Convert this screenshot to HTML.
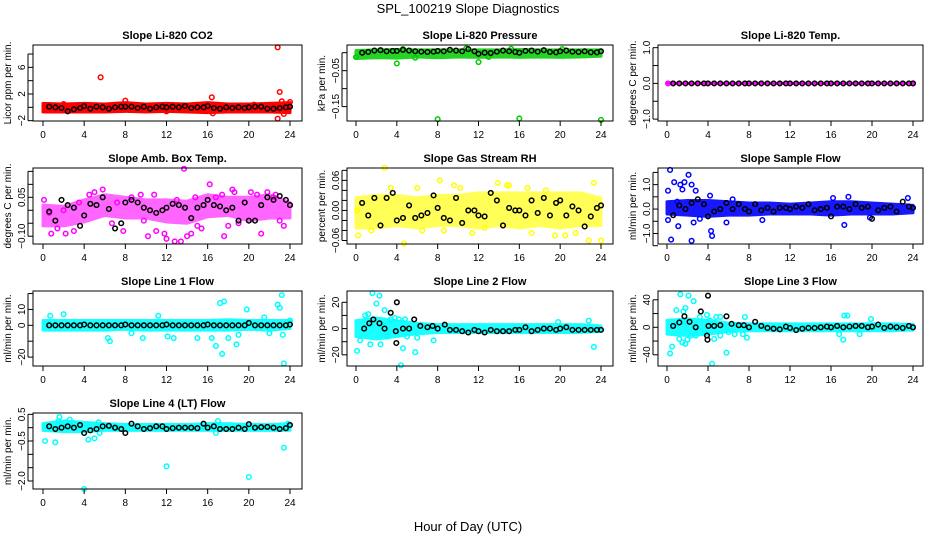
<!DOCTYPE html>
<html><head><meta charset="utf-8"><style>
html,body{margin:0;padding:0;background:#fff;}
svg{display:block;font-family:"Liberation Sans",Arial,sans-serif;}
</style></head><body>
<svg id="chart" width="936" height="540" viewBox="0 0 936 540">
<text x="468" y="13" text-anchor="middle" font-size="13">SPL_100219  Slope Diagnostics</text>
<text x="468" y="531" text-anchor="middle" font-size="13">Hour of Day (UTC)</text>
</svg>
<script>
const bandHours=[0,2,4,6,8,10,12,14,16,18,20,22,24];
const blackHours=[0.6,1.2,1.8,2.4,3.0,3.6,4.0,4.6,5.2,5.8,6.4,7.0,7.6,8.0,8.6,9.2,9.8,10.4,11.0,11.6,12.0,12.6,13.2,13.8,14.4,15.0,15.6,16.0,16.6,17.2,17.8,18.4,19.0,19.6,20.0,20.6,21.2,21.8,22.4,23.0,23.6,24.0];

// CO2
const co2BandLo=[-0.7,-0.7,-0.7,-0.7,-0.6,-0.7,-0.6,-0.7,-0.8,-0.7,-0.7,-0.7,-0.8];
const co2BandHi=[0.6,0.5,0.6,0.5,0.7,0.5,0.6,0.5,0.7,0.5,0.5,0.6,0.7];
const co2PtX=[5.6,22.8,23.0,22.8,16.4,8.0,24.0,23.4,16.5,2.0,12.0,20.5,23.2];
const co2PtY=[4.5,9.0,2.3,-1.7,1.5,1.0,0.8,-1.0,-0.9,0.5,-0.6,0.4,0.9];
const co2Black=[0.1,0.0,-0.1,-0.6,-0.3,-0.1,0.2,-0.2,0.1,0.0,-0.2,0.0,0.1,0.1,0.1,-0.1,0.1,-0.2,0.0,0.1,0.0,0.1,0.0,0.2,-0.1,0.0,0.0,0.2,-0.1,-0.2,0.0,-0.1,0.0,-0.1,0.0,0.1,0.1,-0.2,-0.2,-0.1,0.0,0.1];
// Pressure
const presBandLo=[-0.016,-0.014,-0.015,-0.012,-0.014,-0.012,-0.013,-0.012,-0.013,-0.012,-0.013,-0.012,-0.01];
const presBandHi=[0.006,0.008,0.009,0.008,0.008,0.008,0.008,0.008,0.009,0.008,0.008,0.008,0.008];
const presPtX=[0.0,4.0,4.6,8.0,12.0,16.0,24.0,10.8,15.2,20.2,13.0,5.8];
const presPtY=[-0.012,-0.03,0.01,-0.185,-0.026,-0.183,-0.187,0.012,0.011,0.01,-0.012,-0.014];
const presBlack=[0.0,0.002,0.006,0.007,0.004,0.005,0.005,0.008,0.006,0.004,0.003,0.002,0.003,0.005,0.004,0.008,0.006,0.004,0.01,0.004,-0.003,0.0,-0.001,0.003,0.006,0.004,0.002,0.0,0.005,0.006,0.003,0.007,0.002,0.001,0.004,0.006,0.003,0.002,0.004,0.001,0.001,0.004];
// Temp
const tempBandLo=[0,0,0,0,0,0,0,0,0,0,0,0,0];
const tempBandHi=[0,0,0,0,0,0,0,0,0,0,0,0,0];
const tempPtX=[0.1,24.0];
const tempPtY=[0,0];
const tempBlack=[0,0,0,0,0,0,0,0,0,0,0,0,0,0,0,0,0,0,0,0,0,0,0,0,0,0,0,0,0,0,0,0,0,0,0,0,0,0,0,0,0,0];
// Amb box temp
const ambBandLo=[-0.06,-0.06,-0.045,-0.02,-0.03,-0.03,-0.045,-0.05,-0.025,-0.02,-0.04,-0.03,-0.03];
const ambBandHi=[0.02,0.015,0.04,0.06,0.05,0.04,0.04,0.035,0.06,0.05,0.05,0.06,0.03];
const ambPtX=[0.1,0.8,2.2,3.5,5.0,5.8,7.8,8.6,9.5,10.2,11.0,11.8,12.0,12.8,13.4,13.7,14.0,14.4,15.4,16.2,16.8,17.4,17.6,18.4,18.6,20.2,20.8,21.2,22.4,22.6,23.0,24.0,0.6,3.0,6.7,9.8,15.0,19.0,2.0,13.0,1.4,4.5,7.2,10.8,14.8,18.0,21.8,23.4];
const ambPtY=[0.04,-0.09,-0.09,0.03,0.07,0.08,-0.08,0.05,0.06,-0.1,-0.08,-0.09,-0.11,-0.12,-0.12,0.16,-0.1,-0.09,-0.07,0.1,0.05,0.06,-0.1,0.08,0.07,0.07,0.06,-0.09,0.05,0.06,-0.04,0.02,-0.01,-0.08,-0.05,-0.04,-0.06,-0.05,0.0,0.04,-0.07,0.06,0.03,0.06,0.05,-0.06,0.07,-0.06];
const ambBlack=[-0.005,-0.04,0.04,0.02,0.01,-0.06,-0.02,0.025,0.02,0.05,0.005,-0.07,-0.05,0.03,0.04,0.03,0.01,0.0,-0.01,0.0,0.01,0.025,0.02,0.01,-0.03,0.01,0.02,0.04,0.02,0.015,0.0,0.01,-0.04,0.03,-0.04,-0.04,0.02,0.05,0.04,0.055,0.04,0.02];
// RH
const rhBandLo=[-0.035,-0.035,-0.03,-0.035,-0.03,-0.03,-0.035,-0.03,-0.035,-0.03,-0.035,-0.03,-0.03];
const rhBandHi=[0.025,0.03,0.03,0.025,0.03,0.03,0.035,0.035,0.035,0.035,0.035,0.035,0.025];
const rhPtX=[2.8,0.2,4.7,8.2,13.9,9.6,15.0,17.2,16.8,20.5,21.5,23.3,1.5,6.5,3.4,11.4,14.8,18.6,22.8,24.0,12.6,10.2,19.5,6.0,8.6,0.1];
const rhPtY=[0.085,-0.05,-0.066,0.06,0.055,0.05,0.05,-0.045,0.045,-0.05,-0.045,0.055,-0.04,-0.04,0.045,-0.045,0.05,0.04,-0.06,-0.06,-0.035,0.045,-0.05,0.045,-0.04,0.0];
const rhBlack=[0.015,-0.01,0.025,-0.03,0.025,0.035,-0.02,-0.015,0.01,-0.015,-0.01,-0.005,0.03,0.005,-0.015,-0.02,0.025,-0.025,0.0,0.0,-0.01,-0.012,0.035,0.02,-0.03,0.005,0.0,0.0,-0.01,0.02,-0.005,0.025,-0.01,0.015,0.02,-0.01,0.008,0.0,-0.032,-0.012,0.005,0.01];
// Sample flow
const sampBandLo=[-0.2,-0.25,-0.3,-0.25,-0.25,-0.2,-0.2,-0.2,-0.25,-0.2,-0.2,-0.2,-0.15];
const sampBandHi=[0.3,0.35,0.35,0.3,0.25,0.25,0.2,0.25,0.3,0.3,0.25,0.2,0.15];
const sampPtX=[0.3,0.1,0.1,0.4,0.7,1.1,1.3,1.5,1.7,2.1,2.4,2.4,2.6,2.8,4.3,4.4,4.2,5.8,9.3,17.3,17.7,23.5,6.4,16.2,19.8,1.0,3.2];
const sampPtY=[1.6,0.75,-0.45,-1.25,1.1,-0.7,1.0,0.8,1.1,1.4,1.0,-1.3,-0.55,0.75,-0.9,-1.1,0.55,-0.55,-0.45,-0.65,0.5,0.45,0.4,0.45,-0.35,0.3,-0.4];
const sampBlack=[-0.25,0.15,0.0,0.25,0.4,0.2,-0.3,-0.1,0.0,0.25,0.0,0.2,0.0,-0.1,0.2,-0.05,0.05,-0.1,0.05,0.05,0.0,0.1,0.05,0.2,-0.05,0.0,0.05,-0.3,0.1,0.1,0.0,0.2,0.05,0.1,-0.4,-0.05,0.05,0.1,-0.1,0.3,0.1,0.05];
// Line 1
const l1BandLo=[-3,-3,-3,-3,-2.5,-3,-3,-3,-3,-3,-2.5,-3,-2];
const l1BandHi=[3,3,3,3,3,3,3,3,3,3.5,3,3,3];
const l1PtX=[0.7,2.0,6.3,6.5,9.7,11.2,12.1,12.7,15.0,16.4,16.8,17.2,17.6,17.4,18.0,18.8,19.0,19.8,22.8,23.0,23.2,23.4,23.3,22.0,24.0,21.5,8.6];
const l1PtY=[6,7,-8,-10,-8,6,-7,-8,-8,-8,-13,14,15,-18,-8,-12,-6,10,13,11,19,-24,-6,-5,3,5,-5];
const l1Black=[0,0,0,0,0,0,0.5,0,0,0,0,0,0,0.5,0,0,0,0,0,0,0.5,0,0,0,0,0,0,0.5,0,0,0,0,0,0,1.5,0,0,0,0,0,0,0.5];
// Line 2
const l2BandLo=[-6,-8,-6,-4,-3,-3,-3,-3,-3,-3,-3,-3,-2];
const l2BandHi=[6,8,6,4,3,3,3,3,3,3,3,3,2];
const l2PtX=[0.1,0.4,0.9,1.2,1.4,1.6,2.0,2.3,2.4,2.8,3.1,3.4,3.8,4.2,4.4,4.6,4.8,5.0,5.8,6.0,7.6,23.3,22.8,19.8];
const l2PtY=[-17,-9,10,11,-12,27,19,25,-12,14,-6,7,8,7,-28,-15,7,-6,-18,-7,-9,-14,6,5];
const l2BlkX=[0.8,1.3,1.7,2.3,2.8,3.4,3.9,3.95,4.0,4.6,5.2,5.7,6.3,7.0,7.5,8.0,8.7,9.2,9.8,10.4,11.0,11.6,12.0,12.6,13.2,13.8,14.4,15.0,15.6,16.0,16.6,17.2,17.8,18.4,19.0,19.6,20.0,20.6,21.2,21.8,22.4,23.0,23.6,24.0];
const l2BlkY=[0,4,7,4,0,12,-2,-11,20,0,0,7,2,1,2,0,3,-1,-1,-2,-3,-1,-2,-3,-1,-2,-2,-2,-1,-1,1,-2,-1,0,0,-1,0,1,-1,-1,-1,-1,-1,-1];
// Line 3
const l3BandLo=[-10,-12,-10,-6,-5,-5,-5,-5,-5,-5,-5,-5,-4];
const l3BandHi=[10,12,10,6,5,5,5,5,5,5,5,5,4];
const l3PtX=[0.3,0.5,0.9,1.3,1.2,1.5,1.6,1.8,1.8,2.0,2.1,2.3,2.6,2.8,3.2,3.7,3.9,4.2,4.4,4.6,4.8,5.2,5.2,5.8,6.0,6.6,7.4,7.6,7.8,16.8,17.2,17.3,17.6,19.9,18.8];
const l3PtY=[-38,-28,25,48,-17,-22,23,28,-24,-18,46,-12,38,-12,15,-8,18,10,-53,-17,15,15,-12,-37,-7,-10,-10,15,-15,-10,-18,17,17,12,-10];
const l3BlkX=[0.6,1.2,1.7,2.2,2.8,3.3,3.9,3.95,4.0,4.05,4.6,5.2,5.8,6.3,7.0,7.5,8.0,8.6,9.2,9.8,10.4,11.0,11.6,12.0,12.6,13.2,13.8,14.4,15.0,15.6,16.0,16.6,17.2,17.8,18.4,19.0,19.6,20.0,20.6,21.2,21.8,22.4,23.0,23.6,24.0];
const l3BlkY=[2,7,16,8,0,23,-12,-18,46,2,2,3,16,5,3,3,0,8,2,-1,-2,-3,1,-1,-4,-2,-1,-1,0,1,0,2,0,1,2,2,0,1,4,-1,1,0,-1,2,0];
// Line 4
const l4BandLo=[-0.1,-0.15,-0.15,-0.1,-0.1,-0.1,-0.1,-0.1,-0.1,-0.1,-0.1,-0.1,-0.1];
const l4BandHi=[0.15,0.25,0.2,0.15,0.12,0.12,0.12,0.12,0.15,0.15,0.12,0.12,0.15];
const l4PtX=[0.2,1.2,1.6,1.5,2.6,4.0,4.4,5.0,5.5,5.4,12.0,20.0,23.4,17.0,23.8,16.8,2.2,3.0];
const l4PtY=[-0.5,-0.55,0.4,0.25,0.3,-2.3,-0.45,-0.4,-0.2,0.2,-1.45,-1.85,-0.75,0.25,0.15,-0.2,0.2,0.15];
const l4Black=[0.05,-0.05,0.0,0.05,0.0,0.1,-0.2,-0.1,-0.05,0.05,0.07,0.0,-0.05,-0.2,0.15,0.05,-0.05,-0.02,0.05,0.05,-0.05,-0.02,0.0,0.0,0.0,-0.02,0.15,0.0,0.05,-0.05,-0.05,-0.05,0.0,-0.05,0.13,0.0,0.02,0.03,0.0,-0.05,-0.02,0.1];

const NS='http://www.w3.org/2000/svg';
const svg=document.getElementById('chart');
function mk(tag,attrs,parent){const e=document.createElementNS(NS,tag);for(const k in attrs)e.setAttribute(k,attrs[k]);(parent||svg).appendChild(e);return e;}

const cols=[{l:33,r:302,x0:43,x24:290},{l:347,r:613,x0:356,x24:601},{l:658,r:923,x0:667,x24:913}];
const rows=[{t:45,b:121},{t:168,b:244},{t:291,b:366},{t:413,b:489}];

const panels=[
 {key:'co2',title:'Slope Li-820 CO2',ylab:'Licor ppm per min.',c:0,r:0,ymin:-2.05,ymax:9.35,ticks:[-2,0,2,4,6,8],labels:[-2,2,6],fmt:v=>String(v),color:'#ff0000',op:1,bl:co2BandLo,bh:co2BandHi,px:co2PtX,py:co2PtY,kx:blackHours,ky:co2Black},
 {key:'pres',title:'Slope Li-820 Pressure',ylab:'kPa per min.',c:1,r:0,ymin:-0.19,ymax:0.0214,ticks:[0,-0.05,-0.1,-0.15],labels:[-0.05,-0.15],fmt:v=>v.toFixed(2),color:'#00cc00',op:0.85,bl:presBandLo,bh:presBandHi,px:presPtX,py:presPtY,kx:blackHours,ky:presBlack},
 {key:'temp',title:'Slope Li-820 Temp.',ylab:'degrees C per min.',c:2,r:0,ymin:-1.053,ymax:1.075,ticks:[-1,-0.5,0,0.5,1],labels:[-1,0,1],fmt:v=>v.toFixed(1),color:'#ff00ff',op:1,bl:tempBandLo,bh:tempBandHi,px:tempPtX,py:tempPtY,kx:blackHours,ky:tempBlack},
 {key:'amb',title:'Slope Amb. Box Temp.',ylab:'degrees C per min.',c:0,r:1,ymin:-0.13,ymax:0.163,ticks:[-0.1,-0.05,0,0.05,0.1,0.15],labels:[-0.1,0.05],fmt:v=>v.toFixed(2),color:'#ff00ff',op:0.6,bl:ambBandLo,bh:ambBandHi,px:ambPtX,py:ambPtY,kx:blackHours,ky:ambBlack},
 {key:'rh',title:'Slope Gas Stream RH',ylab:'percent per min.',c:1,r:1,ymin:-0.067,ymax:0.0847,ticks:[-0.06,-0.04,-0.02,0,0.02,0.04,0.06,0.08],labels:[-0.06,0,0.06],fmt:v=>v.toFixed(2),color:'#ffff00',op:0.65,bl:rhBandLo,bh:rhBandHi,px:rhPtX,py:rhPtY,kx:blackHours,ky:rhBlack},
 {key:'samp',title:'Slope Sample Flow',ylab:'ml/min per min.',c:2,r:1,ymin:-1.43,ymax:1.68,ticks:[-1.5,-1,-0.5,0,0.5,1,1.5],labels:[-1,0,1],fmt:v=>v.toFixed(1),color:'#0000ff',op:0.9,bl:sampBandLo,bh:sampBandHi,px:sampPtX,py:sampPtY,kx:blackHours,ky:sampBlack},
 {key:'l1',title:'Slope Line 1 Flow',ylab:'ml/min per min.',c:0,r:2,ymin:-25.6,ymax:21.6,ticks:[-20,-10,0,10,20],labels:[-20,0,10],fmt:v=>String(v),color:'#00ffff',op:0.9,bl:l1BandLo,bh:l1BandHi,px:l1PtX,py:l1PtY,kx:blackHours,ky:l1Black},
 {key:'l2',title:'Slope Line 2 Flow',ylab:'ml/min per min.',c:1,r:2,ymin:-28.5,ymax:28.6,ticks:[-20,-10,0,10,20],labels:[-20,0,20],fmt:v=>String(v),color:'#00ffff',op:0.9,bl:l2BandLo,bh:l2BandHi,px:l2PtX,py:l2PtY,kx:l2BlkX,ky:l2BlkY},
 {key:'l3',title:'Slope Line 3 Flow',ylab:'ml/min per min.',c:2,r:2,ymin:-56.3,ymax:52.8,ticks:[-40,-20,0,20,40],labels:[-40,0,40],fmt:v=>String(v),color:'#00ffff',op:0.9,bl:l3BandLo,bh:l3BandHi,px:l3PtX,py:l3PtY,kx:l3BlkX,ky:l3BlkY},
 {key:'l4',title:'Slope Line 4 (LT) Flow',ylab:'ml/min per min.',c:0,r:3,ymin:-2.3,ymax:0.55,ticks:[-2,-1.5,-1,-0.5,0,0.5],labels:[-2,-0.5,0.5],fmt:v=>v.toFixed(1),color:'#00ffff',op:0.9,bl:l4BandLo,bh:l4BandHi,px:l4PtX,py:l4PtY,kx:blackHours,ky:l4Black}
];

panels.forEach(p=>{
  const C=cols[p.c],R=rows[p.r];
  const xs=h=>C.x0+(C.x24-C.x0)*h/24;
  const ys=v=>R.b-(v-p.ymin)/(p.ymax-p.ymin)*(R.b-R.t);
  const g=mk('g',{});
  
  
  const cx=(C.l+C.r)/2, cy=(R.t+R.b)/2;
  const t=mk('text',{x:cx,y:R.t-6,'text-anchor':'middle','font-size':11,'font-weight':'bold'},g);t.textContent=p.title;
  
  
  const yl=mk('text',{x:0,y:0,'text-anchor':'middle','font-size':10,transform:`translate(${C.l-22},${cy}) rotate(-90)`},g);yl.textContent=p.ylab;
  
  
  let pts=[];
  bandHours.forEach((h,i)=>pts.push(xs(h)+','+ys(p.bh[i])));
  for(let i=bandHours.length-1;i>=0;i--)pts.push(xs(bandHours[i])+','+ys(p.bl[i]));
  const band=mk('polygon',{points:pts.join(' '),fill:p.color,stroke:p.color,'stroke-width':3,'stroke-linejoin':'round',opacity:p.op},g);
  
  
  p.px.forEach((h,i)=>{
    const c=mk('circle',{cx:xs(h),cy:ys(p.py[i]),r:2.3,fill:'none',stroke:p.color,'stroke-width':1.5},g);
    
    
  });
  p.kx.forEach((h,i)=>{
    const c=mk('circle',{cx:xs(h),cy:ys(p.ky[i]),r:2.3,fill:'none',stroke:'#000','stroke-width':1.5},g);
    
    
  });
  const box=mk('rect',{x:C.l,y:R.t,width:C.r-C.l,height:R.b-R.t,fill:'none',stroke:'#000','stroke-width':1},g);
  
  
  [0,4,8,12,16,20,24].forEach(h=>{
    mk('line',{x1:xs(h),x2:xs(h),y1:R.b,y2:R.b+5,stroke:'#000'},g);
    const tl=mk('text',{x:xs(h),y:R.b+17,'text-anchor':'middle','font-size':10},g);tl.textContent=h;
    
    
  });
  p.ticks.forEach(v=>{
    mk('line',{x1:C.l-5,x2:C.l,y1:ys(v),y2:ys(v),stroke:'#000'},g);
  });
  p.labels.forEach(v=>{
    const tl=mk('text',{x:0,y:0,'text-anchor':'middle','font-size':10,transform:`translate(${C.l-8},${ys(v)}) rotate(-90)`},g);
    tl.textContent=p.fmt(v).replace('-','\u2212');
    
    
  });
  mk('line',{x1:C.l-5,x2:C.l-5,y1:ys(p.ticks[0]),y2:ys(p.ticks[p.ticks.length-1]),stroke:'#000'},g);
});
</script>
</body></html>
